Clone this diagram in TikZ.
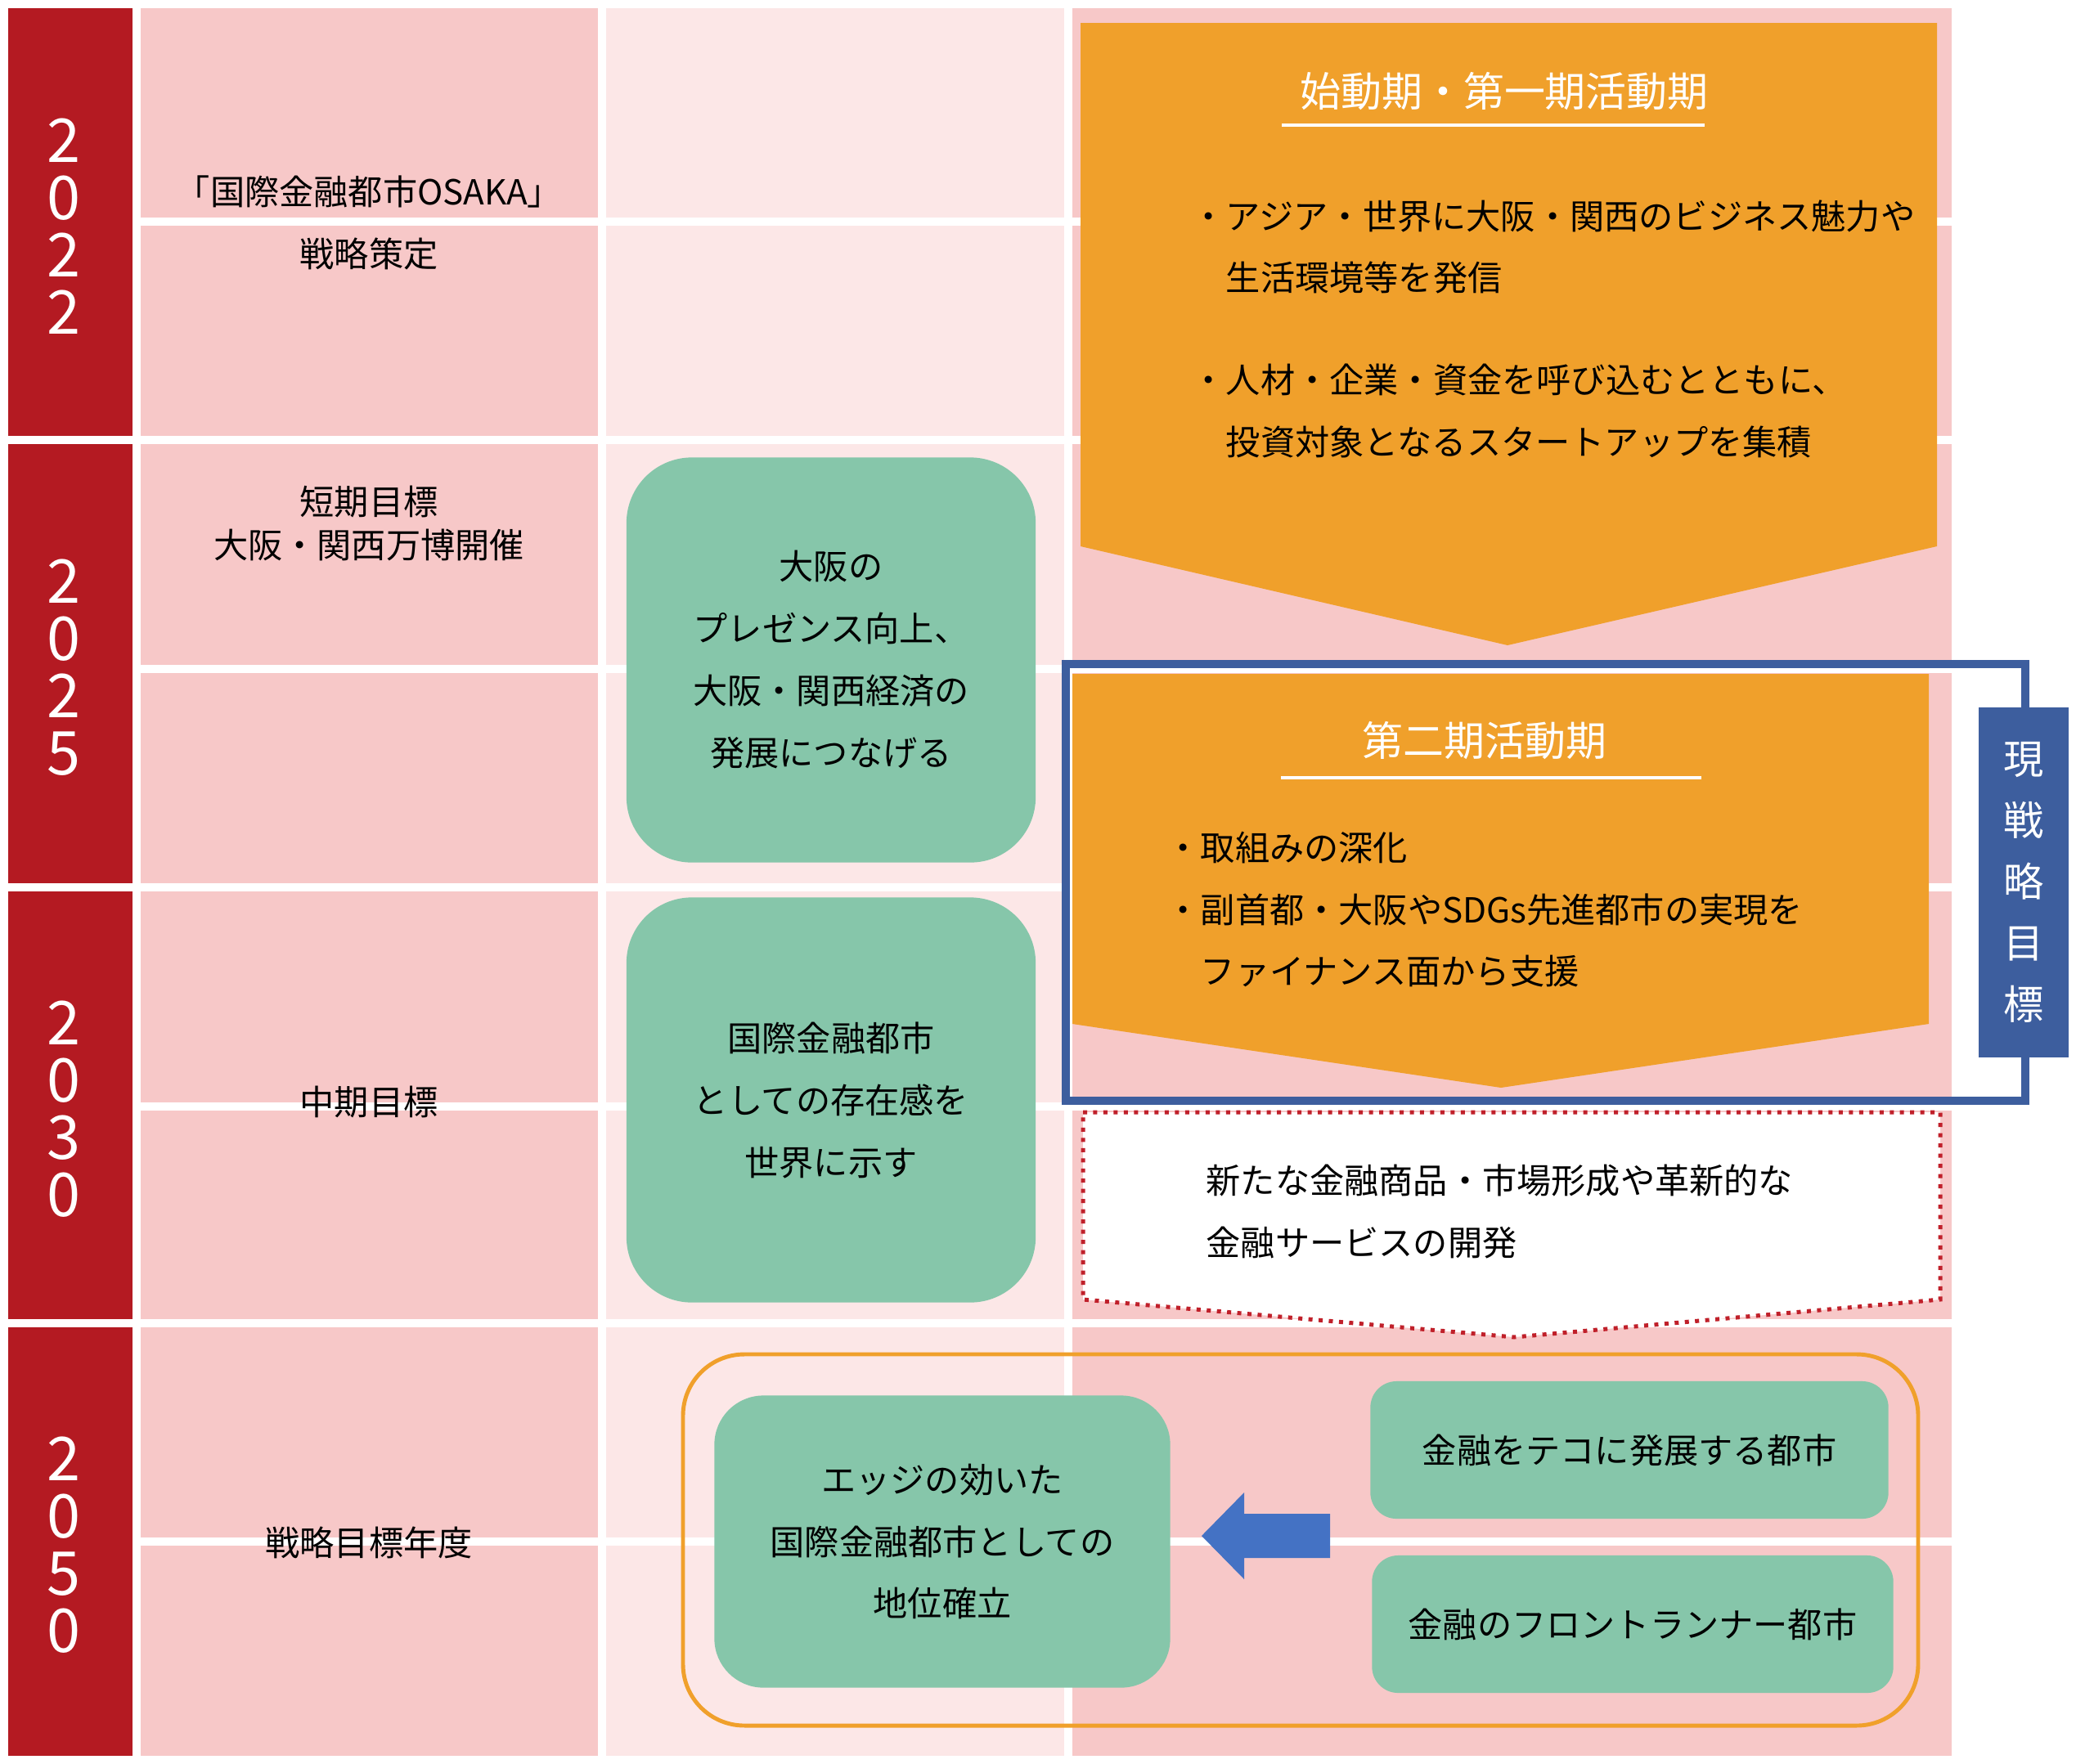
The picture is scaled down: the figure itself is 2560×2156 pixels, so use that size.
\documentclass[tikz,border=0pt]{standalone}
\usepackage{fontspec}
\setmainfont{Noto Sans CJK JP}
\usepackage{tikz}
\usetikzlibrary{calc}
\definecolor{yearred}{HTML}{B41A22}
\definecolor{cellpink}{HTML}{F7C8C8}
\definecolor{cellpale}{HTML}{FCE7E7}
\definecolor{phaseorange}{HTML}{F0A02B}
\definecolor{goalgreen}{HTML}{86C6AA}
\definecolor{frameblue}{HTML}{3D5E9E}
\definecolor{arrowblue}{HTML}{4472C4}
\definecolor{dotred}{HTML}{C0202A}
\newcommand{\bodyfont}{\fontsize{12pt}{21.6pt}\selectfont}
\newcommand{\titlefont}{\fontsize{14.2pt}{17pt}\selectfont}
\newcommand{\yearfont}{\fontsize{21pt}{19.9pt}\selectfont}
\newcommand{\labelfont}{\fontsize{14pt}{21.3pt}\selectfont}
\tikzset{
  year/.style={text=white, font=\yearfont, align=center, inner sep=0pt},
  rowlabel/.style={font=\bodyfont, align=center, inner sep=0pt},
  goal/.style={fill=goalgreen, rounded corners=0.8cm, font=\bodyfont, align=center, inner sep=0pt},
  citybox/.style={fill=goalgreen, rounded corners=0.32cm, font=\bodyfont, inner sep=0pt},
  phasetitle/.style={text=white, font=\titlefont, inner sep=0pt},
  bullets/.style={font=\bodyfont, align=left, inner sep=0pt, anchor=west},
}
\begin{document}
\begin{tikzpicture}[x=0.01cm, y=-0.01cm]
          \useasboundingbox (0,0) rectangle (2560,2156);
          \fill[white] (0,0) rectangle (2560,2156);

          \foreach \ytop/\ybot/\ymid in {10/533/271, 543/1080/818, 1090/1613/1353, 1623/2147/1885} {
            \fill[yearred] (10,\ytop) rectangle (162,\ybot);
            \fill[cellpink] (172,\ytop) rectangle (731,\ybot);
            \fill[cellpale] (741,\ytop) rectangle (1301,\ybot);
            \fill[cellpink] (1311,\ytop) rectangle (2386,\ybot);
            \fill[white] (172,{\ymid-5}) rectangle (2386,{\ymid+5});
          }

          \node[year] (y2022) at (78,277) {2\\0\\2\\2};
          \node[year] (y2025) at (78,816) {2\\0\\2\\5};
          \node[year] (y2030) at (78,1356) {2\\0\\3\\0};
          \node[year] (y2050) at (78,1889) {2\\0\\5\\0};

          \node[rowlabel] (strategy) at (451,272) {「国際金融都市OSAKA」\\戦略策定};
          \node[rowlabel, font=\fontsize{12pt}{15pt}\selectfont] (shortterm) at (451,640) {短期目標\\大阪・関西万博開催};
          \node[rowlabel] (midterm) at (451,1348) {中期目標};
          \node[rowlabel] (target) at (451,1886) {戦略目標年度};

          \node[goal, minimum width=5cm, minimum height=4.95cm] (presence) at (1016,807) {大阪の\\プレゼンス向上、\\大阪・関西経済の\\発展につなげる};
          \node[goal, minimum width=5cm, minimum height=4.95cm] (standing) at (1016,1345) {国際金融都市\\としての存在感を\\世界に示す};

          \fill[phaseorange] (1321,28) -- (2368,28) -- (2368,668) -- (1843,789) -- (1321,668) -- cycle;
          \node[phasetitle] (phase1) at (1839,112) {始動期・第一期活動期};
          \draw[white, line width=0.9pt] (1567,153) -- (2084,153);
          \node[bullets] (phase1text) at (1456,402) {・アジア・世界に大阪・関西のビジネス魅力や\\\hphantom{・}生活環境等を発信\\[13.7pt]・人材・企業・資金を呼び込むとともに、\\\hphantom{・}投資対象となるスタートアップを集積};

          \fill[phaseorange] (1311,824) -- (2358,824) -- (2358,1252) -- (1835,1330) -- (1311,1252) -- cycle;
          \node[phasetitle] (phase2) at (1815,905) {第二期活動期};
          \draw[white, line width=0.9pt] (1566,951) -- (2080,951);
          \node[bullets] (phase2text) at (1425,1112) {・取組みの深化\\・副首都・大阪やSDGs先進都市の実現を\\\hphantom{・}ファイナンス面から支援};

          \draw[frameblue, line width=2.85pt] (1303,812) rectangle (2476,1346);
          \node[fill=frameblue, text=white, font=\labelfont, align=center, minimum width=1.09cm, minimum height=4.27cm, inner sep=0pt] (current) at (2474,1079) {現\\戦\\略\\目\\標};

          \filldraw[fill=white, draw=dotred, line width=1.42pt, dash pattern=on 1.42pt off 2.13pt] (1324,1360) -- (2372,1360) -- (2372,1589) -- (1851,1635) -- (1324,1589) -- cycle;
          \node[bullets] (newfinance) at (1474,1481) {新たな金融商品・市場形成や革新的な\\金融サービスの開発};

          \draw[phaseorange, line width=1.4pt, rounded corners=0.75cm] (835,1656) rectangle (2345,2110);
          \node[goal, minimum width=5.57cm, minimum height=3.57cm, rounded corners=0.6cm] (edge) at (1152,1885) {エッジの効いた\\国際金融都市としての\\地位確立};
          \node[citybox, minimum width=6.33cm, minimum height=1.68cm] (lever) at (1992,1773) {金融をテコに発展する都市};
          \node[citybox, minimum width=6.37cm, minimum height=1.68cm] (frontrunner) at (1996,1986) {金融のフロントランナー都市};

          \fill[arrowblue] (1469,1878) -- (1521,1825) -- (1521,1851) -- (1626,1851) -- (1626,1905) -- (1521,1905) -- (1521,1931) -- cycle;
        \end{tikzpicture}
\end{document}
